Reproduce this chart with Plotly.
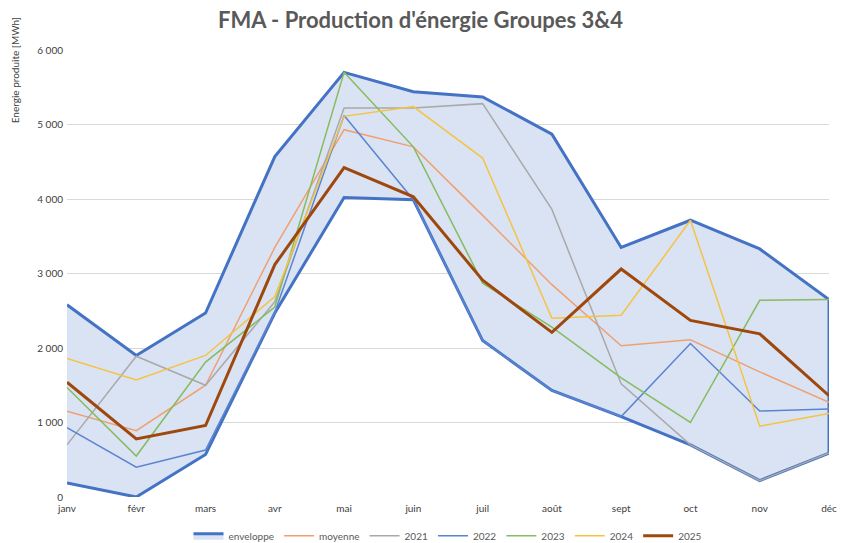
import plotly.graph_objects as go

months = ["janv", "févr", "mars", "avr", "mai", "juin", "juil", "août", "sept", "oct", "nov", "déc"]
env_upper = [2580, 1900, 2470, 4570, 5700, 5440, 5370, 4870, 3350, 3715, 3330, 2650]
env_lower = [190, 0, 570, 2470, 4020, 3990, 2100, 1430, 1080, 700, 220, 590]
moyenne = [1150, 890, 1500, 3350, 4930, 4700, 3780, 2850, 2030, 2110, 1680, 1270]
y2021 = [700, 1890, 1500, 2620, 5220, 5220, 5280, 3860, 1520, 700, 220, 590]
y2022 = [930, 400, 630, 2480, 5120, 3990, 2100, 1430, 1080, 2060, 1155, 1180]
y2023 = [1470, 550, 1810, 2550, 5700, 4700, 2870, 2280, 1600, 1000, 2640, 2650]
y2024 = [1860, 1570, 1900, 2690, 5110, 5240, 4550, 2400, 2440, 3715, 950, 1120]
y2025 = [1540, 780, 960, 3120, 4420, 4030, 2910, 2210, 3060, 2370, 2190, 1360]

FONT = "Lato, Open Sans, sans-serif"
fig = go.Figure()

fig.add_trace(go.Scatter(
    x=months + months[::-1], y=env_upper + env_lower[::-1],
    mode="lines", fill="toself", name="enveloppe",
    line=dict(color="#4472C4", width=3), fillcolor="rgba(218,227,243,1)",
))
series = [
    ("moyenne", moyenne, "#F0A070", 1.5),
    ("2021", y2021, "#A9A9A9", 1.5),
    ("2022", y2022, "#5B84D0", 1.5),
    ("2023", y2023, "#86BB5E", 1.5),
    ("2024", y2024, "#F5C342", 1.5),
    ("2025", y2025, "#9E480E", 3),
]
for name, vals, col, w in series:
    fig.add_trace(go.Scatter(x=months, y=vals, mode="lines", name=name,
                             line=dict(color=col, width=w)))

fig.update_layout(
    width=841, height=543,
    margin=dict(l=67, r=12, t=50, b=46, autoexpand=False),
    paper_bgcolor="white", plot_bgcolor="white",
    separators=", ",
    font=dict(family=FONT, size=10, color="#595959"),
    title=dict(text="<b>FMA - Production d'énergie Groupes 3&4</b>",
               x=0.5, xanchor="center", y=0.962, yanchor="middle",
               font=dict(family=FONT, size=22, color="#595959")),
    showlegend=True,
    legend=dict(orientation="h", x=0.5, xanchor="center",
                yref="container", y=0.0135, yanchor="middle",
                font=dict(size=10, color="#595959"), itemwidth=30,
                traceorder="normal"),
    annotations=[dict(text="Energie produite [MWh]", textangle=-90, showarrow=False,
                      xref="paper", yref="paper", x=-0.068, y=0.955,
                      xanchor="center", yanchor="middle",
                      font=dict(size=10, color="#404040"))],
)
fig.update_xaxes(type="category", range=[0, 11], showgrid=False, zeroline=False,
                 showline=False, ticks="", automargin=False, ticklabelstandoff=4,
                 ticklabeloverflow="allow",
                 tickfont=dict(size=10, color="#404040"))
fig.update_yaxes(range=[0, 6000], dtick=1000, tickformat=",d", showgrid=True,
                 gridcolor="#D9D9D9", gridwidth=1, zeroline=False, showline=False,
                 ticks="", automargin=False, ticklabelstandoff=3,
                 tickfont=dict(size=10, color="#404040"))

fig.write_html("out.html", config={"displayModeBar": False},
               post_script="document.body.style.margin='0';document.body.style.overflow='hidden';")
